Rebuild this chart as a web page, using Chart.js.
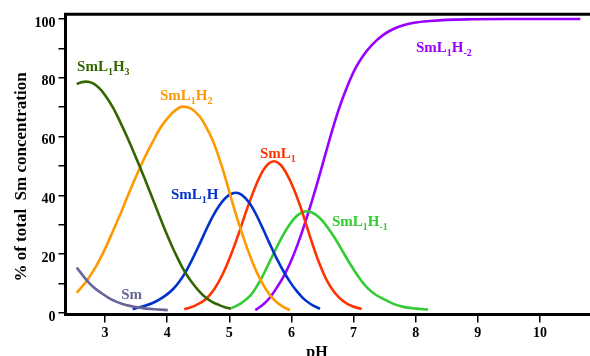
<!DOCTYPE html>
<html>
<head>
<meta charset="utf-8">
<script src="https://cdn.jsdelivr.net/npm/chart.js@4/dist/chart.umd.min.js"></script>
<style>
  html, body { margin: 0; padding: 0; background: #fff; }
  #wrap { width: 590px; height: 356px; }
</style>
</head>
<body>
<div id="wrap"><canvas id="chart" width="590" height="356"></canvas></div>
<script>
// tick values
const phTicks = [3, 4, 5, 6, 7, 8, 9, 10];
const pctTicks = [0, 10, 20, 30, 40, 50, 60, 70, 80, 90, 100];

// species distribution (pH, % of total Sm)
const smPh = [2.544, 2.68, 2.802, 2.94, 3.07, 3.2, 3.338, 3.5, 3.66, 3.85, 4.01];
const smPct = [15.5, 11.8, 9.0, 6.8, 5.0, 3.7, 2.7, 2.0, 1.5, 1.2, 1.0];

const h3Ph = [2.544, 2.62, 2.694, 2.8, 2.908, 3.01, 3.124, 3.23, 3.338, 3.45, 3.55, 3.65, 3.767, 3.85, 3.928, 4.01, 4.089, 4.17, 4.25, 4.33, 4.41, 4.52, 4.625, 4.73, 4.839, 4.93, 5.027];
const h3Pct = [77.9, 78.5, 78.7, 78.2, 76.5, 73.8, 70.0, 65.6, 60.7, 55.3, 50.3, 45.1, 38.9, 34.4, 30.2, 26.0, 22.2, 18.6, 15.3, 12.5, 10.1, 7.3, 5.2, 3.7, 2.7, 2.0, 1.5];

const h2Ph = [2.544, 2.7, 2.802, 2.9, 3.016, 3.13, 3.23, 3.34, 3.445, 3.55, 3.65, 3.767, 3.88, 3.981, 4.1, 4.25, 4.38, 4.517, 4.62, 4.732, 4.81, 4.893, 4.97, 5.054, 5.13, 5.215, 5.3, 5.376, 5.45, 5.55, 5.65, 5.75, 5.86, 5.977];
const h2Pct = [6.9, 10.8, 14.0, 17.6, 22.5, 28.0, 32.8, 38.5, 43.8, 48.8, 53.4, 58.2, 62.6, 65.6, 68.4, 70.2, 69.6, 67.0, 63.6, 58.8, 54.4, 49.0, 43.5, 37.3, 32.0, 26.5, 21.3, 17.2, 13.5, 9.5, 6.2, 3.9, 2.2, 1.0];

const h1Ph = [3.445, 3.6, 3.767, 3.93, 4.089, 4.2, 4.303, 4.41, 4.517, 4.62, 4.732, 4.84, 4.947, 5.03, 5.108, 5.2, 5.322, 5.43, 5.547, 5.65, 5.762, 5.87, 5.977, 6.08, 6.19, 6.32, 6.46];
const h1Pct = [1.3, 2.2, 3.4, 5.3, 8.0, 10.8, 14.2, 18.5, 23.2, 28.0, 32.8, 36.6, 39.3, 40.5, 40.9, 40.2, 37.5, 33.6, 28.4, 23.6, 18.6, 14.3, 10.6, 7.6, 5.0, 2.9, 1.4];

const l1Ph = [4.276, 4.45, 4.625, 4.76, 4.893, 5.03, 5.161, 5.27, 5.376, 5.46, 5.547, 5.63, 5.72, 5.82, 5.924, 6.03, 6.138, 6.245, 6.352, 6.46, 6.567, 6.7, 6.835, 6.98, 7.13];
const l1Pct = [1.3, 2.5, 4.8, 8.2, 13.2, 20.0, 27.6, 34.5, 40.6, 45.0, 48.6, 50.8, 51.6, 50.5, 47.3, 42.6, 36.6, 29.6, 22.6, 16.3, 11.2, 6.8, 4.0, 2.3, 1.4];

const hm1Ph = [5.03, 5.18, 5.333, 5.44, 5.547, 5.65, 5.762, 5.87, 5.977, 6.08, 6.17, 6.245, 6.33, 6.42, 6.513, 6.62, 6.728, 6.835, 6.942, 7.07, 7.21, 7.35, 7.478, 7.64, 7.8, 8.0, 8.2];
const hm1Pct = [1.6, 3.2, 5.8, 9.0, 13.0, 17.5, 22.3, 26.7, 30.3, 32.9, 34.2, 34.6, 34.2, 33.0, 31.0, 28.0, 24.5, 20.6, 16.8, 12.6, 8.8, 6.3, 4.8, 3.1, 2.1, 1.5, 1.2];

const hm2Ph = [5.42, 5.55, 5.655, 5.76, 5.87, 5.98, 6.085, 6.19, 6.3, 6.38, 6.46, 6.54, 6.62, 6.7, 6.78, 6.86, 6.94, 7.04, 7.157, 7.3, 7.478, 7.64, 7.8, 8.0, 8.23, 8.5, 8.9, 9.5, 10.65];
const hm2Pct = [1.0, 3.0, 5.3, 8.5, 12.3, 17.0, 22.5, 28.8, 36.0, 41.6, 47.5, 53.5, 59.5, 65.2, 70.4, 75.0, 79.2, 83.6, 87.6, 91.3, 94.6, 96.6, 97.9, 98.8, 99.3, 99.7, 99.9, 100.0, 100.0];

const seriesColors = ['#666699', '#336600', '#ff9900', '#0033cc', '#ff3300', '#33cc33', '#9900ff'];

// curve labels: text segments (1 = subscript), anchored at pH / % (baseline)
const labelParts = [
  [['Sm', 0]],
  [['SmL', 0], ['1', 1], ['H', 0], ['3', 1]],
  [['SmL', 0], ['1', 1], ['H', 0], ['2', 1]],
  [['SmL', 0], ['1', 1], ['H', 0]],
  [['SmL', 0], ['1', 1]],
  [['SmL', 0], ['1', 1], ['H', 0], ['-1', 1]],
  [['SmL', 0], ['1', 1], ['H', 0], ['-2', 1]]
];
const labelPh = [3.26, 2.55, 3.885, 4.06, 5.494, 6.653, 8.004];
const labelPct = [4.8, 82.4, 72.4, 38.8, 52.7, 29.6, 88.8];

function toPoints(xs, ys) {
  return xs.map((x, i) => ({ x: x, y: ys[i] }));
}

const curves = [
  toPoints(smPh, smPct),
  toPoints(h3Ph, h3Pct),
  toPoints(h2Ph, h2Pct),
  toPoints(h1Ph, h1Pct),
  toPoints(l1Ph, l1Pct),
  toPoints(hm1Ph, hm1Pct),
  toPoints(hm2Ph, hm2Pct)
];

const serif = '"Liberation Serif", "Times New Roman", serif';

// frame top line, axis titles and curve labels
const decorations = {
  id: 'decorations',
  afterDatasetsDraw(chart) {
    const ctx = chart.ctx;
    const area = chart.chartArea;
    const xs = chart.scales.x;
    const ys = chart.scales.y;
    ctx.save();

    ctx.strokeStyle = '#000';
    ctx.lineWidth = 3;
    ctx.beginPath();
    ctx.moveTo(area.left - 1.5, area.top);
    ctx.lineTo(area.right, area.top);
    ctx.stroke();

    labelParts.forEach((parts, i) => {
      let px = xs.getPixelForValue(labelPh[i]);
      const py = ys.getPixelForValue(labelPct[i]);
      ctx.fillStyle = seriesColors[i];
      ctx.textBaseline = 'alphabetic';
      ctx.textAlign = 'left';
      parts.forEach(([txt, sub]) => {
        ctx.font = sub ? 'bold 10px ' + serif : 'bold 15px ' + serif;
        ctx.fillText(txt, px, sub ? py + 4 : py);
        px += ctx.measureText(txt).width;
      });
    });

    ctx.fillStyle = '#000';
    ctx.font = 'bold 16px ' + serif;
    ctx.textAlign = 'center';
    ctx.textBaseline = 'top';
    ctx.fillText('pH', 317, 345);

    ctx.translate(22, 177);
    ctx.rotate(-Math.PI / 2);
    ctx.font = 'bold 17px ' + serif;
    ctx.textBaseline = 'middle';
    ctx.fillText('% of total  Sm concentration', 0, 0);
    ctx.restore();
  }
};

new Chart(document.getElementById('chart'), {
  type: 'line',
  data: {
    datasets: curves.map((pts, i) => ({
      data: pts,
      borderColor: seriesColors[i],
      borderWidth: 2.6,
      pointRadius: 0,
      fill: false,
      cubicInterpolationMode: 'monotone'
    }))
  },
  options: {
    responsive: false,
    animation: false,
    devicePixelRatio: 1,
    layout: { padding: { top: 14.3, right: 0, left: 0, bottom: 0 } },
    plugins: { legend: { display: false }, tooltip: { enabled: false } },
    scales: {
      x: {
        type: 'linear',
        min: 2.364,
        max: 10.805,
        afterBuildTicks: s => { s.ticks = phTicks.map(v => ({ value: v })); },
        afterFit: s => { s.height = 41.5; },
        border: { display: true, width: 3, color: '#000' },
        grid: { drawOnChartArea: false, drawTicks: true, tickLength: 8, color: '#000', lineWidth: 1.5 },
        ticks: { color: '#000', font: { family: serif, size: 14, weight: 'bold' }, padding: 2, maxRotation: 0 }
      },
      y: {
        type: 'linear',
        min: -0.5,
        max: 101.6,
        afterBuildTicks: s => { s.ticks = pctTicks.map(v => ({ value: v })); },
        afterFit: s => { s.width = 65.5; },
        border: { display: true, width: 3, color: '#000' },
        grid: { drawOnChartArea: false, drawTicks: true, tickLength: 7, color: '#000', lineWidth: 1.5 },
        ticks: {
          color: '#000',
          font: { family: serif, size: 14, weight: 'bold' },
          padding: 3,
          labelOffset: 4,
          callback: v => (v % 20 === 0 ? v : '')
        }
      }
    }
  },
  plugins: [decorations]
});
</script>
</body>
</html>
